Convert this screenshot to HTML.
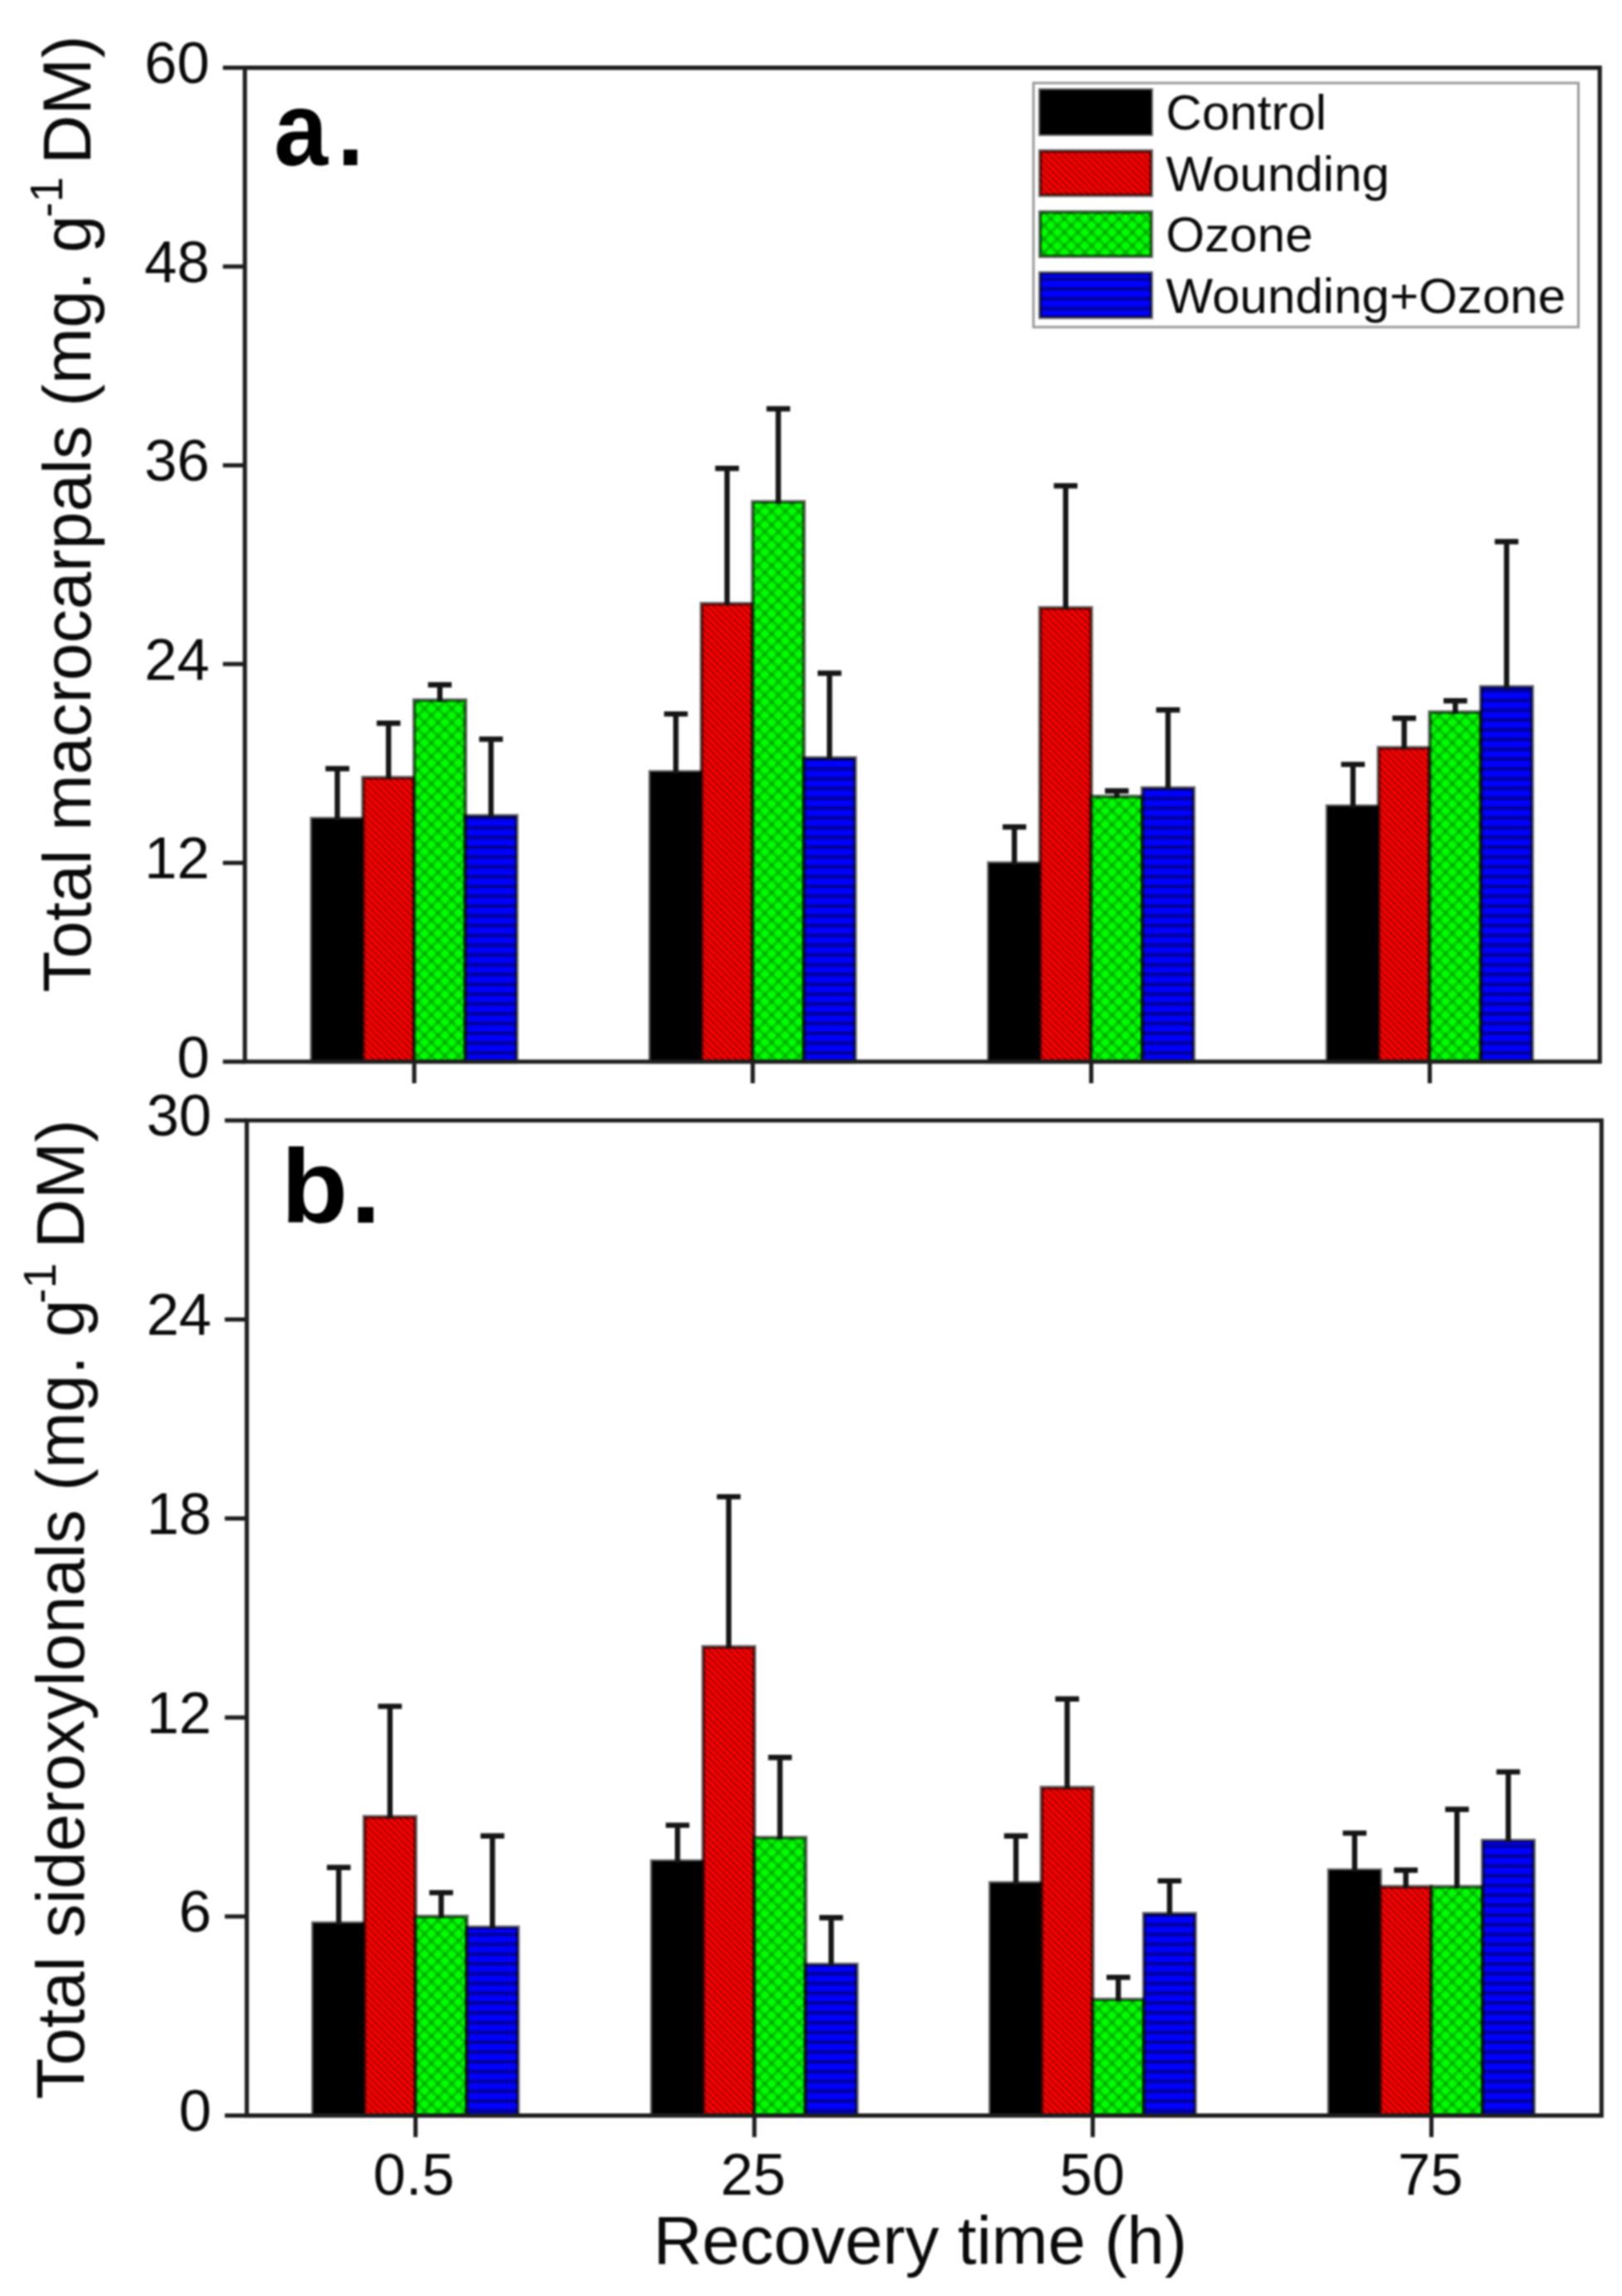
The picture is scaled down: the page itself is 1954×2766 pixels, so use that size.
<!DOCTYPE html>
<html lang="en"><head><meta charset="utf-8"><title>Figure</title>
<style>
html,body{margin:0;padding:0;background:#fff;overflow:hidden}
svg{display:block;filter:blur(0.85px)}
text{font-family:'Liberation Sans',Arial,Helvetica,sans-serif;fill:#0a0a0a}
.tk{font-size:70.5px}
.ax{font-size:81px}
.lg{font-size:60.1px}
.pl{font-size:127px;font-weight:bold;fill:#000;letter-spacing:5px}
</style></head><body>
<svg width="1954" height="2766" viewBox="0 0 1954 2766">
<defs>
<pattern id="pr" patternUnits="userSpaceOnUse" width="8.1" height="8.1">
<rect width="8.1" height="8.1" fill="#ff0000"/>
<path d="M-2,-2 L10.1,10.1 M-2,6.1 L2,10.1 M6.1,-2 L10.1,2" stroke="#900000" stroke-width="1.8" fill="none"/>
</pattern>
<pattern id="pg" patternUnits="userSpaceOnUse" width="16.4" height="16.4" patternTransform="translate(3,1)">
<rect width="16.4" height="16.4" fill="#00ff00"/>
<path d="M-2,-2 L18.4,18.4 M-2,18.4 L18.4,-2 M-2,14.4 L2,18.4 M14.4,-2 L18.4,2 M-2,2 L2,-2 M14.4,18.4 L18.4,14.4" stroke="#001000" stroke-opacity="0.24" stroke-width="3.6" fill="none"/>
<path d="M8.2,6.2 L10.2,8.2 L8.2,10.2 L6.2,8.2 Z M0,-2 L2,0 L0,2 L-2,0 Z M16.4,-2 L18.4,0 L16.4,2 L14.4,0 Z M0,14.4 L2,16.4 L0,18.4 L-2,16.4 Z M16.4,14.4 L18.4,16.4 L16.4,18.4 L14.4,16.4 Z" fill="#001000" fill-opacity="0.3"/>
</pattern>
<pattern id="pb" patternUnits="userSpaceOnUse" width="10" height="11.8">
<rect width="10" height="11.8" fill="#0000ff"/>
<rect y="3.7" width="10" height="4.4" fill="#00009c"/>
</pattern>
</defs>
<rect width="1954" height="2766" fill="#fff"/>

<g id="panelA">
<rect x="375.6" y="986.2" width="61.7" height="292.8" fill="#000" stroke="#000" stroke-opacity="0.6" stroke-width="4.4"/>
<rect x="437.3" y="936.8" width="61.7" height="342.2" fill="url(#pr)" stroke="#000" stroke-opacity="0.6" stroke-width="4.4"/>
<rect x="499.0" y="843.5" width="61.7" height="435.5" fill="url(#pg)" stroke="#000" stroke-opacity="0.6" stroke-width="4.4"/>
<rect x="560.7" y="982.8" width="61.7" height="296.2" fill="url(#pb)" stroke="#000" stroke-opacity="0.6" stroke-width="4.4"/>
<path d="M406.4,988.2 V926.0 M392.1,926.0 H420.8" stroke="#161616" stroke-width="6.4" fill="none"/>
<path d="M468.1,938.8 V871.3 M453.8,871.3 H482.4" stroke="#161616" stroke-width="6.4" fill="none"/>
<path d="M529.9,845.5 V825.0 M515.6,825.0 H544.1" stroke="#161616" stroke-width="6.4" fill="none"/>
<path d="M591.5,984.8 V890.5 M577.2,890.5 H605.8" stroke="#161616" stroke-width="6.4" fill="none"/>
<rect x="783.4" y="929.9" width="61.7" height="349.1" fill="#000" stroke="#000" stroke-opacity="0.6" stroke-width="4.4"/>
<rect x="845.1" y="727.3" width="61.7" height="551.7" fill="url(#pr)" stroke="#000" stroke-opacity="0.6" stroke-width="4.4"/>
<rect x="906.8" y="604.6" width="61.7" height="674.4" fill="url(#pg)" stroke="#000" stroke-opacity="0.6" stroke-width="4.4"/>
<rect x="968.5" y="913.1" width="61.7" height="365.9" fill="url(#pb)" stroke="#000" stroke-opacity="0.6" stroke-width="4.4"/>
<path d="M814.2,931.9 V860.1 M800.0,860.1 H828.5" stroke="#161616" stroke-width="6.4" fill="none"/>
<path d="M875.9,729.3 V564.2 M861.6,564.2 H890.2" stroke="#161616" stroke-width="6.4" fill="none"/>
<path d="M937.6,606.6 V492.5 M923.4,492.5 H951.9" stroke="#161616" stroke-width="6.4" fill="none"/>
<path d="M999.3,915.1 V811.0 M985.0,811.0 H1013.6" stroke="#161616" stroke-width="6.4" fill="none"/>
<rect x="1191.2" y="1039.8" width="61.7" height="239.2" fill="#000" stroke="#000" stroke-opacity="0.6" stroke-width="4.4"/>
<rect x="1252.9" y="732.3" width="61.7" height="546.7" fill="url(#pr)" stroke="#000" stroke-opacity="0.6" stroke-width="4.4"/>
<rect x="1314.6" y="959.5" width="61.7" height="319.5" fill="url(#pg)" stroke="#000" stroke-opacity="0.6" stroke-width="4.4"/>
<rect x="1376.3" y="949.4" width="61.7" height="329.6" fill="url(#pb)" stroke="#000" stroke-opacity="0.6" stroke-width="4.4"/>
<path d="M1222.0,1041.8 V996.2 M1207.8,996.2 H1236.3" stroke="#161616" stroke-width="6.4" fill="none"/>
<path d="M1283.8,734.3 V585.2 M1269.5,585.2 H1298.0" stroke="#161616" stroke-width="6.4" fill="none"/>
<path d="M1345.4,961.5 V952.8 M1331.1,952.8 H1359.7" stroke="#161616" stroke-width="6.4" fill="none"/>
<path d="M1407.1,951.4 V855.3 M1392.8,855.3 H1421.4" stroke="#161616" stroke-width="6.4" fill="none"/>
<rect x="1599.0" y="971.2" width="61.7" height="307.8" fill="#000" stroke="#000" stroke-opacity="0.6" stroke-width="4.4"/>
<rect x="1660.7" y="900.8" width="61.7" height="378.2" fill="url(#pr)" stroke="#000" stroke-opacity="0.6" stroke-width="4.4"/>
<rect x="1722.4" y="857.9" width="61.7" height="421.1" fill="url(#pg)" stroke="#000" stroke-opacity="0.6" stroke-width="4.4"/>
<rect x="1784.1" y="827.5" width="61.7" height="451.5" fill="url(#pb)" stroke="#000" stroke-opacity="0.6" stroke-width="4.4"/>
<path d="M1629.9,973.2 V920.9 M1615.6,920.9 H1644.2" stroke="#161616" stroke-width="6.4" fill="none"/>
<path d="M1691.6,902.8 V865.3 M1677.3,865.3 H1705.9" stroke="#161616" stroke-width="6.4" fill="none"/>
<path d="M1753.2,859.9 V844.3 M1739.0,844.3 H1767.5" stroke="#161616" stroke-width="6.4" fill="none"/>
<path d="M1815.0,829.5 V652.5 M1800.7,652.5 H1829.2" stroke="#161616" stroke-width="6.4" fill="none"/>
<path d="M295.0,81.6 H1927.2 V1279.0 H295.0 Z" stroke="#1e1e1e" stroke-width="5.1" fill="none"/>
<path d="M268.5,81.6 H295.0" stroke="#1e1e1e" stroke-width="5.1" fill="none"/>
<text class="tk" x="252.5" y="100.1" text-anchor="end">60</text>
<path d="M268.5,321.1 H295.0" stroke="#1e1e1e" stroke-width="5.1" fill="none"/>
<text class="tk" x="252.5" y="339.6" text-anchor="end">48</text>
<path d="M268.5,560.6 H295.0" stroke="#1e1e1e" stroke-width="5.1" fill="none"/>
<text class="tk" x="252.5" y="579.1" text-anchor="end">36</text>
<path d="M268.5,800.0 H295.0" stroke="#1e1e1e" stroke-width="5.1" fill="none"/>
<text class="tk" x="252.5" y="818.5" text-anchor="end">24</text>
<path d="M268.5,1039.5 H295.0" stroke="#1e1e1e" stroke-width="5.1" fill="none"/>
<text class="tk" x="252.5" y="1058.0" text-anchor="end">12</text>
<path d="M268.5,1279.0 H295.0" stroke="#1e1e1e" stroke-width="5.1" fill="none"/>
<text class="tk" x="252.5" y="1297.5" text-anchor="end">0</text>
<path d="M499.0,1279.0 V1305.0" stroke="#1e1e1e" stroke-width="5.1" fill="none"/>
<path d="M906.8,1279.0 V1305.0" stroke="#1e1e1e" stroke-width="5.1" fill="none"/>
<path d="M1314.6,1279.0 V1305.0" stroke="#1e1e1e" stroke-width="5.1" fill="none"/>
<path d="M1722.4,1279.0 V1305.0" stroke="#1e1e1e" stroke-width="5.1" fill="none"/>
</g>
<g id="panelB">
<rect x="377.2" y="2316.8" width="61.7" height="231.8" fill="#000" stroke="#000" stroke-opacity="0.6" stroke-width="4.4"/>
<rect x="438.9" y="2188.7" width="61.7" height="359.9" fill="url(#pr)" stroke="#000" stroke-opacity="0.6" stroke-width="4.4"/>
<rect x="500.6" y="2308.8" width="61.7" height="239.8" fill="url(#pg)" stroke="#000" stroke-opacity="0.6" stroke-width="4.4"/>
<rect x="562.3" y="2321.8" width="61.7" height="226.8" fill="url(#pb)" stroke="#000" stroke-opacity="0.6" stroke-width="4.4"/>
<path d="M408.1,2318.8 V2249.7 M393.8,2249.7 H422.4" stroke="#161616" stroke-width="6.4" fill="none"/>
<path d="M469.8,2190.7 V2055.6 M455.4,2055.6 H484.1" stroke="#161616" stroke-width="6.4" fill="none"/>
<path d="M531.5,2310.8 V2280.1 M517.2,2280.1 H545.8" stroke="#161616" stroke-width="6.4" fill="none"/>
<path d="M593.2,2323.8 V2211.7 M578.9,2211.7 H607.5" stroke="#161616" stroke-width="6.4" fill="none"/>
<rect x="785.4" y="2242.1" width="61.7" height="306.5" fill="#000" stroke="#000" stroke-opacity="0.6" stroke-width="4.4"/>
<rect x="847.1" y="1984.0" width="61.7" height="564.6" fill="url(#pr)" stroke="#000" stroke-opacity="0.6" stroke-width="4.4"/>
<rect x="908.8" y="2213.8" width="61.7" height="334.8" fill="url(#pg)" stroke="#000" stroke-opacity="0.6" stroke-width="4.4"/>
<rect x="970.5" y="2366.6" width="61.7" height="182.0" fill="url(#pb)" stroke="#000" stroke-opacity="0.6" stroke-width="4.4"/>
<path d="M816.2,2244.1 V2198.9 M802.0,2198.9 H830.5" stroke="#161616" stroke-width="6.4" fill="none"/>
<path d="M877.9,1986.0 V1803.1 M863.6,1803.1 H892.2" stroke="#161616" stroke-width="6.4" fill="none"/>
<path d="M939.6,2215.8 V2117.2 M925.4,2117.2 H953.9" stroke="#161616" stroke-width="6.4" fill="none"/>
<path d="M1001.3,2368.6 V2310.2 M987.0,2310.2 H1015.6" stroke="#161616" stroke-width="6.4" fill="none"/>
<rect x="1193.0" y="2268.4" width="61.7" height="280.2" fill="#000" stroke="#000" stroke-opacity="0.6" stroke-width="4.4"/>
<rect x="1254.7" y="2153.5" width="61.7" height="395.1" fill="url(#pr)" stroke="#000" stroke-opacity="0.6" stroke-width="4.4"/>
<rect x="1316.4" y="2408.8" width="61.7" height="139.8" fill="url(#pg)" stroke="#000" stroke-opacity="0.6" stroke-width="4.4"/>
<rect x="1378.1" y="2305.5" width="61.7" height="243.1" fill="url(#pb)" stroke="#000" stroke-opacity="0.6" stroke-width="4.4"/>
<path d="M1223.9,2270.4 V2211.8 M1209.6,2211.8 H1238.2" stroke="#161616" stroke-width="6.4" fill="none"/>
<path d="M1285.6,2155.5 V2046.8 M1271.3,2046.8 H1299.9" stroke="#161616" stroke-width="6.4" fill="none"/>
<path d="M1347.2,2410.8 V2382.1 M1333.0,2382.1 H1361.5" stroke="#161616" stroke-width="6.4" fill="none"/>
<path d="M1409.0,2307.5 V2265.9 M1394.7,2265.9 H1423.2" stroke="#161616" stroke-width="6.4" fill="none"/>
<rect x="1601.0" y="2253.0" width="61.7" height="295.6" fill="#000" stroke="#000" stroke-opacity="0.6" stroke-width="4.4"/>
<rect x="1662.7" y="2272.9" width="61.7" height="275.7" fill="url(#pr)" stroke="#000" stroke-opacity="0.6" stroke-width="4.4"/>
<rect x="1724.4" y="2272.9" width="61.7" height="275.7" fill="url(#pg)" stroke="#000" stroke-opacity="0.6" stroke-width="4.4"/>
<rect x="1786.1" y="2217.4" width="61.7" height="331.2" fill="url(#pb)" stroke="#000" stroke-opacity="0.6" stroke-width="4.4"/>
<path d="M1631.9,2255.0 V2208.4 M1617.6,2208.4 H1646.2" stroke="#161616" stroke-width="6.4" fill="none"/>
<path d="M1693.6,2274.9 V2253.0 M1679.3,2253.0 H1707.9" stroke="#161616" stroke-width="6.4" fill="none"/>
<path d="M1755.2,2274.9 V2179.7 M1741.0,2179.7 H1769.5" stroke="#161616" stroke-width="6.4" fill="none"/>
<path d="M1817.0,2219.4 V2134.6 M1802.7,2134.6 H1831.2" stroke="#161616" stroke-width="6.4" fill="none"/>
<path d="M297.3,1349.8 H1929.3 V2548.6 H297.3 Z" stroke="#1e1e1e" stroke-width="5.1" fill="none"/>
<path d="M270.8,1349.8 H297.3" stroke="#1e1e1e" stroke-width="5.1" fill="none"/>
<text class="tk" x="254.8" y="1368.3" text-anchor="end">30</text>
<path d="M270.8,1589.6 H297.3" stroke="#1e1e1e" stroke-width="5.1" fill="none"/>
<text class="tk" x="254.8" y="1608.1" text-anchor="end">24</text>
<path d="M270.8,1829.3 H297.3" stroke="#1e1e1e" stroke-width="5.1" fill="none"/>
<text class="tk" x="254.8" y="1847.8" text-anchor="end">18</text>
<path d="M270.8,2069.1 H297.3" stroke="#1e1e1e" stroke-width="5.1" fill="none"/>
<text class="tk" x="254.8" y="2087.6" text-anchor="end">12</text>
<path d="M270.8,2308.8 H297.3" stroke="#1e1e1e" stroke-width="5.1" fill="none"/>
<text class="tk" x="254.8" y="2327.3" text-anchor="end">6</text>
<path d="M270.8,2548.6 H297.3" stroke="#1e1e1e" stroke-width="5.1" fill="none"/>
<text class="tk" x="254.8" y="2567.1" text-anchor="end">0</text>
<path d="M500.6,2548.6 V2574.6" stroke="#1e1e1e" stroke-width="5.1" fill="none"/>
<path d="M908.8,2548.6 V2574.6" stroke="#1e1e1e" stroke-width="5.1" fill="none"/>
<path d="M1316.4,2548.6 V2574.6" stroke="#1e1e1e" stroke-width="5.1" fill="none"/>
<path d="M1724.4,2548.6 V2574.6" stroke="#1e1e1e" stroke-width="5.1" fill="none"/>
</g>
<text class="tk" x="498.6" y="2644" text-anchor="middle">0.5</text>
<text class="tk" x="907.3" y="2644" text-anchor="middle">25</text>
<text class="tk" x="1315.7" y="2644" text-anchor="middle">50</text>
<text class="tk" x="1723.2" y="2644" text-anchor="middle">75</text>
<text class="ax" style="font-size:81.5px" x="1108.5" y="2726.5" text-anchor="middle">Recovery time (h)</text>
<text class="ax" style="font-size:81.4px" transform="translate(109.2,1195.5) rotate(-90)">Total macrocarpals (mg. g</text><text class="ax" style="font-size:55px" transform="translate(75.2,262) rotate(-90)">-1</text><text class="ax" style="font-size:82.4px" transform="translate(109.2,42.5) rotate(-90)" text-anchor="end">DM)</text>
<text class="ax" style="font-size:81.4px" transform="translate(100.5,2529) rotate(-90)">Total sideroxylonals (mg. g</text><text class="ax" style="font-size:55px" transform="translate(66.5,1570.5) rotate(-90)">-1</text><text class="ax" style="font-size:82.4px" transform="translate(100.5,1348.5) rotate(-90)" text-anchor="end">DM)</text>
<text class="pl" transform="translate(330,199) scale(0.92,1)" style="letter-spacing:12px">a.</text>
<text class="pl" transform="translate(338.5,1473) scale(1.04,1)" style="letter-spacing:3px">b.</text>
<rect x="1245" y="100" width="656.5" height="294" fill="#fff" stroke="#9a9a9a" stroke-width="3"/>
<rect x="1253" y="108.4" width="134" height="53.4" fill="#000" stroke="#000" stroke-opacity="0.6" stroke-width="4.2"/>
<text class="lg" x="1404.5" y="156.4">Control</text>
<rect x="1253" y="181.9" width="134" height="53.4" fill="url(#pr)" stroke="#000" stroke-opacity="0.6" stroke-width="4.2"/>
<text class="lg" x="1404.5" y="229.9">Wounding</text>
<rect x="1253" y="255.4" width="134" height="53.4" fill="url(#pg)" stroke="#000" stroke-opacity="0.6" stroke-width="4.2"/>
<text class="lg" x="1404.5" y="303.4">Ozone</text>
<rect x="1253" y="328.9" width="134" height="53.4" fill="url(#pb)" stroke="#000" stroke-opacity="0.6" stroke-width="4.2"/>
<text class="lg" x="1404.5" y="376.9">Wounding+Ozone</text>
</svg>
</body></html>
